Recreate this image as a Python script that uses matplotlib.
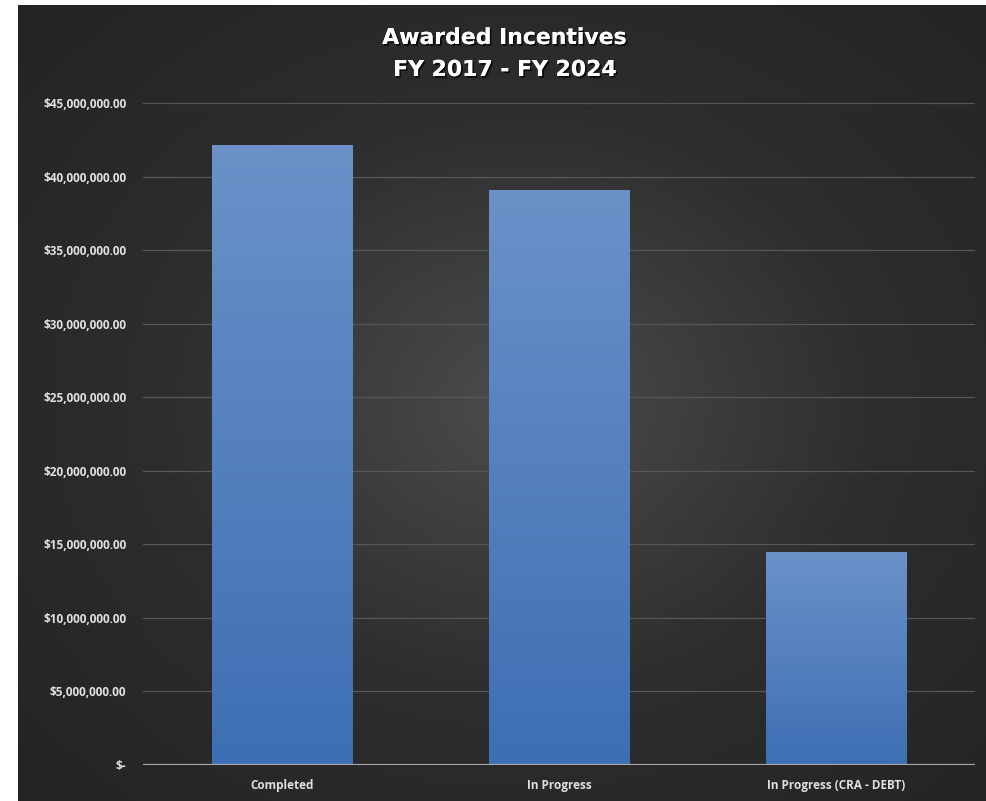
import numpy as np
import matplotlib
matplotlib.use("Agg")
import matplotlib.pyplot as plt
from matplotlib.ticker import FuncFormatter
from matplotlib.colors import LinearSegmentedColormap
import matplotlib.patheffects as pe

categories = ["Completed", "In Progress", "In Progress (CRA - DEBT)"]
values = [42150000, 39100000, 14500000]
yticks = [0, 5e6, 10e6, 15e6, 20e6, 25e6, 30e6, 35e6, 40e6, 45e6]

W, H = 987, 801
fig = plt.figure(figsize=(W / 100, H / 100), dpi=100)
fig.patch.set_facecolor("white")

# background panel with radial gradient
bg = fig.add_axes([18 / W, 0, 1 - 18 / W, 1 - 5 / H])
bg.set_axis_off()
yy, xx = np.mgrid[0:1:300j, 0:1:300j]
r = np.sqrt(((xx - 0.52) / 0.75) ** 2 + ((yy - 0.5) / 0.75) ** 2)
r = np.clip(r, 0, 1)
bgcmap = LinearSegmentedColormap.from_list("bg", ["#4c4c4c", "#2d2d2d", "#232323"])
bg.imshow(r, cmap=bgcmap, aspect="auto", extent=[0, 1, 0, 1], vmin=0, vmax=1)

left, right = 143 / W, 975 / W
bottom, top = (H - 765) / H, (H - 103) / H
ax = fig.add_axes([left, bottom, right - left, top - bottom])
ax.patch.set_alpha(0)
x = np.arange(len(categories))
bars = ax.bar(x, values, width=0.505, color="#5a84c2", zorder=2, edgecolor="none")

bcmap = LinearSegmentedColormap.from_list("bar", ["#3d6fb4", "#6b91c8"])
grad = np.linspace(0, 1, 256).reshape(-1, 1)
for b in bars:
    im = ax.imshow(grad, cmap=bcmap, aspect="auto", origin="lower",
                   extent=[b.get_x(), b.get_x() + b.get_width(), 0, b.get_height()],
                   zorder=3)
    im.set_clip_path(b)

ax.set_xlim(-0.5, 2.5)
ax.set_ylim(0, 45e6)
ax.set_yticks(yticks)

def fmt(v, pos):
    if v == 0:
        return "$-"
    return "${:,.2f}".format(v)

ax.yaxis.set_major_formatter(FuncFormatter(fmt))
ax.set_xticks(x)
ax.set_xticklabels(categories)
for sp in ax.spines.values():
    sp.set_visible(False)
ax.grid(axis="y", color="#575757", linewidth=0.9, zorder=0)
ax.axhline(0, color="#a8a8a8", linewidth=1.6, zorder=4)
ax.tick_params(axis="both", length=0, colors="#d9d9d9")
ax.tick_params(axis="y", pad=12)
ax.tick_params(axis="x", pad=10)
for lbl in ax.get_yticklabels() + ax.get_xticklabels():
    lbl.set_fontfamily("Open Sans")
    lbl.set_fontweight("bold")
    lbl.set_fontsize(8.5)
    lbl.set_color("#e0e0e0")

shadow = [pe.withSimplePatchShadow(offset=(1.2, -1.2), shadow_rgbFace="black", alpha=0.8), pe.Normal()]
fig.text(505 / W, 1 - 38 / H, "Awarded Incentives", ha="center", va="center",
         fontsize=15.8, fontweight="bold", color="white", family="DejaVu Sans",
         path_effects=shadow)
fig.text(505 / W, 1 - 70 / H, "FY 2017 - FY 2024", ha="center", va="center",
         fontsize=15.8, fontweight="bold", color="white", family="DejaVu Sans",
         path_effects=shadow)

fig.savefig("out.png", dpi=100, facecolor=fig.get_facecolor())
